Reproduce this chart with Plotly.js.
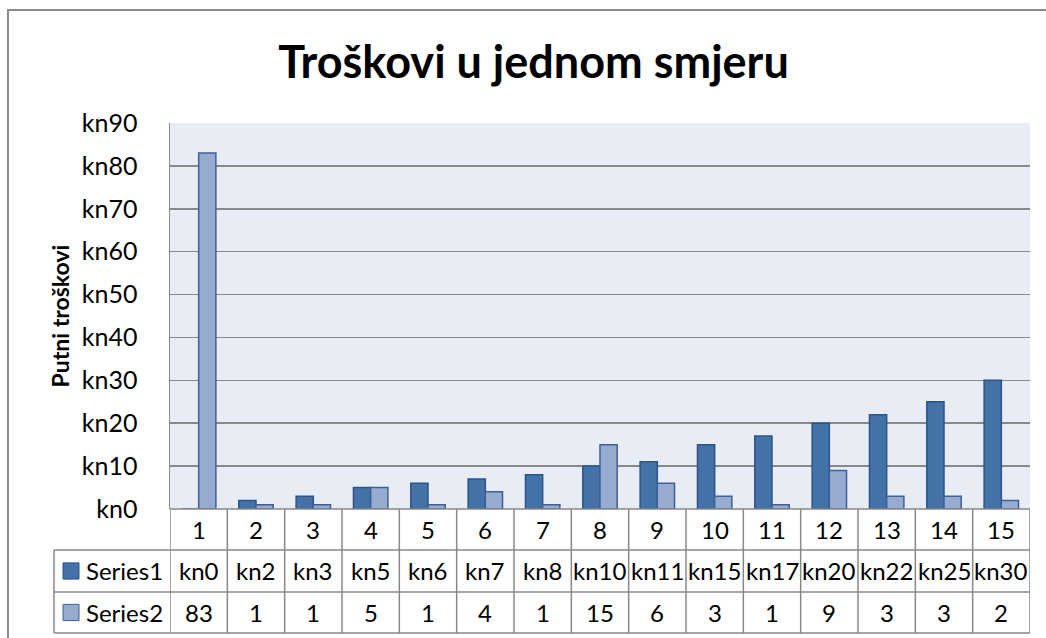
<!DOCTYPE html>
<html>
<head>
<meta charset="utf-8">
<script src="https://cdn.plot.ly/plotly-3.0.1.min.js"></script>
<style>
html,body{margin:0;padding:0;background:#fff;}
#chart{width:1046px;height:638px;}
</style>
</head>
<body>
<div id="chart"></div>
<script>
const categories = [1,2,3,4,5,6,7,8,9,10,11,12,13,14,15];
const series1 = [0,2,3,5,6,7,8,10,11,15,17,20,22,25,30];
const series2 = [83,1,1,5,1,4,1,15,6,3,1,9,3,3,2];
const seriesNames = ["Series1","Series2"];
const yTicks = [0,10,20,30,40,50,60,70,80,90];
const titleText = "Troškovi u jednom smjeru";
const yTitle = "Putni troškovi";

const FONT = "Lato, 'Open Sans', sans-serif";
const c1 = "#4471A8", c1b = "#2E5487";
const c2 = "#97ABD1", c2b = "#3D6196";
const grid = "#888888";

const traces = [
  {type:"bar", name:seriesNames[0], x:categories, y:series1,
   marker:{color:c1, line:{color:c1b, width:1.5}}, hoverinfo:"y"},
  {type:"bar", name:seriesNames[1], x:categories, y:series2,
   marker:{color:c2, line:{color:c2b, width:1.5}}, hoverinfo:"y"}
];

const rTop = 0, r1 = -0.1062, r2 = -0.2150, r3 = -0.3212;
const legLeft = -0.1349;
const shapes = [];
const ann = [];
const lineStyle = {color:grid, width:1.5};
const TS = 24;

shapes.push({type:"rect", xref:"paper", yref:"paper", x0:-0.1884, x1:1.05, y0:-0.4, y1:1.2927,
  line:{color:"#8a8a8a", width:2}, fillcolor:"rgba(0,0,0,0)", layer:"below"});

for (let i = 0; i <= categories.length; i++) {
  shapes.push({type:"line", xref:"x", yref:"paper", x0:categories[0]-0.5+i, x1:categories[0]-0.5+i,
    y0:rTop, y1:r3, line:lineStyle});
}
shapes.push({type:"line", xref:"paper", yref:"paper", x0:0, x1:1, y0:rTop, y1:rTop, line:lineStyle});
[r1, r2, r3].forEach(y => shapes.push({type:"line", xref:"paper", yref:"paper", x0:legLeft, x1:1, y0:y, y1:y, line:lineStyle}));
shapes.push({type:"line", xref:"paper", yref:"paper", x0:legLeft, x1:legLeft, y0:r1, y1:r3, line:lineStyle});

const keyX0 = -0.1244, keyX1 = -0.1058;
[[c1,c1b,(r1+r2)/2],[c2,c2b,(r2+r3)/2]].forEach(([f,b,yc]) => {
  shapes.push({type:"rect", xref:"paper", yref:"paper", x0:keyX0, x1:keyX1, y0:yc-0.021, y1:yc+0.021,
    fillcolor:f, line:{color:b, width:1}});
});
seriesNames.forEach((n,i) => {
  const yc = i === 0 ? (r1+r2)/2 : (r2+r3)/2;
  ann.push({xref:"paper", yref:"paper", x:-0.1000, y:yc, text:n, showarrow:false,
    xanchor:"left", yanchor:"middle", font:{family:FONT, size:TS, color:"#000"}});
});

categories.forEach((c,i) => {
  ann.push({xref:"x", yref:"paper", x:c, y:(rTop+r1)/2, text:String(c), showarrow:false,
    yanchor:"middle", font:{family:FONT, size:TS, color:"#000"}});
  ann.push({xref:"x", yref:"paper", x:c, y:(r1+r2)/2, text:"kn"+series1[i], showarrow:false,
    yanchor:"middle", font:{family:FONT, size:TS, color:"#000"}});
  ann.push({xref:"x", yref:"paper", x:c, y:(r2+r3)/2, text:String(series2[i]), showarrow:false,
    yanchor:"middle", font:{family:FONT, size:TS, color:"#000"}});
});

const layout = {
  width:1046, height:638,
  margin:{l:170, r:16, t:123, b:129},
  paper_bgcolor:"#ffffff",
  plot_bgcolor:"#E8ECF4",
  showlegend:false,
  barmode:"group",
  bargap:0.4,
  bargroupgap:0,
  title:{text:"<b>"+titleText+"</b>", font:{family:FONT, size:45, color:"#000"},
    x:0.51, xref:"container", xanchor:"center", y:0.902, yanchor:"middle", yref:"container"},
  xaxis:{range:[0.5,15.5], showticklabels:false, showgrid:false, zeroline:false,
    ticks:"", showline:false, fixedrange:true},
  yaxis:{range:[0,90], tickvals:yTicks, ticktext:yTicks.map(v=>"kn"+v),
    tickfont:{family:FONT, size:25, color:"#000"}, ticklabelstandoff:26,
    showgrid:true, gridcolor:grid, gridwidth:1.5, zeroline:false,
    showline:true, linecolor:grid, linewidth:1.5, ticks:"", ticklen:0,
    title:{text:"<b>"+yTitle+"</b>", font:{family:FONT, size:23, color:"#000"}, standoff:6},
    fixedrange:true},
  shapes:shapes,
  annotations:ann
};

Plotly.newPlot("chart", traces, layout, {displayModeBar:false, staticPlot:true});
</script>
</body>
</html>
